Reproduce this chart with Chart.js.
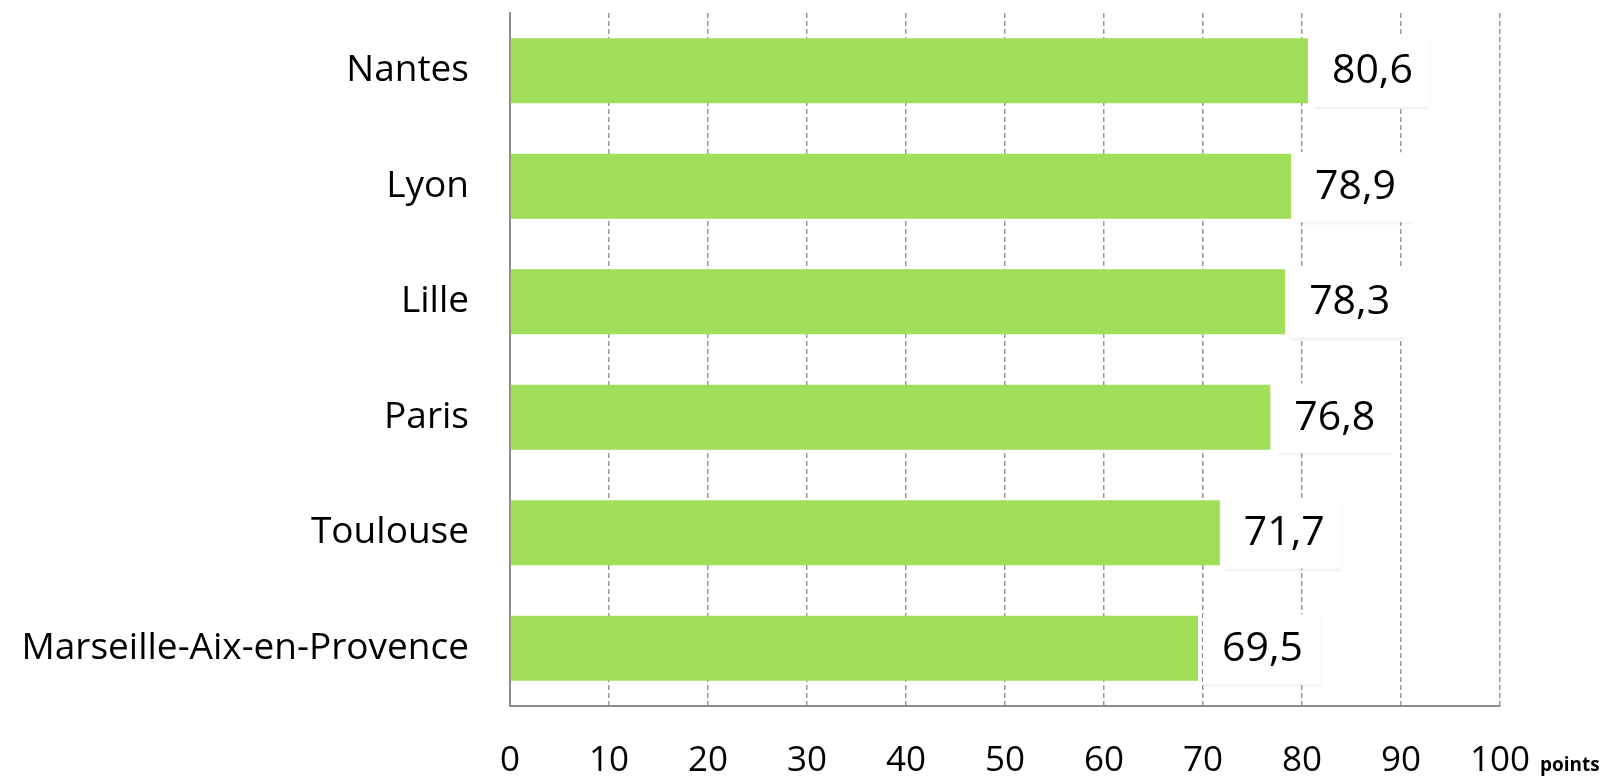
<!DOCTYPE html>
<html>
<head>
<meta charset="utf-8">
<script src="https://cdn.jsdelivr.net/npm/chart.js@4/dist/chart.umd.min.js"></script>
<style>
  html, body { margin: 0; padding: 0; background: #fff; }
  #wrap { width: 1604px; height: 777px; }
</style>
</head>
<body>
<div id="wrap"><canvas id="chart"></canvas></div>
<script>
// ================= DONNÉES =================
const villes = ["Nantes", "Lyon", "Lille", "Paris", "Toulouse", "Marseille-Aix-en-Provence"];
const scores = [80.6, 78.9, 78.3, 76.8, 71.7, 69.5];
const ticksX = [0, 10, 20, 30, 40, 50, 60, 70, 80, 90, 100];
const uniteX = "points";

const FONT = "'Open Sans', 'Noto Sans', sans-serif";

// étiquettes de valeur sur fond blanc
const valueLabels = {
  id: "valueLabels",
  afterDatasetsDraw(chart) {
    const ctx = chart.ctx;
    const meta = chart.getDatasetMeta(0);
    ctx.save();
    ctx.font = "41px " + FONT;
    ctx.textBaseline = "middle";
    meta.data.forEach((bar, i) => {
      const txt = scores[i].toFixed(1).replace(".", ",");
      const w = ctx.measureText(txt).width;
      const x0 = bar.x + 5;
      ctx.shadowColor = "rgba(0,0,0,0.08)";
      ctx.shadowBlur = 3;
      ctx.shadowOffsetY = 2;
      ctx.fillStyle = "#fff";
      ctx.fillRect(x0, bar.y - 34, w + 36, 70);
      ctx.shadowColor = "transparent";
      ctx.shadowBlur = 0;
      ctx.shadowOffsetY = 0;
      ctx.fillStyle = "#000";
      ctx.fillText(txt, bar.x + 24, bar.y + 1);
    });
    ctx.restore();
  },
  afterDraw(chart) {
    // unité à droite de l'axe
    const ctx = chart.ctx;
    const xs = chart.scales.x;
    ctx.save();
    ctx.font = "bold 19px " + FONT;
    ctx.fillStyle = "#000";
    ctx.textBaseline = "alphabetic";
    ctx.fillText(uniteX, xs.getPixelForValue(100) + 40, 771);
    ctx.restore();
  }
};

new Chart(document.getElementById("chart").getContext("2d"), {
  type: "bar",
  data: {
    labels: villes,
    datasets: [{
      data: scores,
      backgroundColor: "#a1de5a",
      borderWidth: 0,
      barPercentage: 0.563,
      categoryPercentage: 1
    }]
  },
  options: {
    indexAxis: "y",
    responsive: true,
    maintainAspectRatio: false,
    animation: false,
    devicePixelRatio: 1,
    layout: { padding: { left: 0, right: 104, top: 13, bottom: 0 } },
    plugins: {
      legend: { display: false },
      tooltip: { enabled: false }
    },
    scales: {
      x: {
        min: 0,
        max: 100,
        afterBuildTicks: s => { s.ticks = ticksX.map(v => ({ value: v })); },
        afterFit: s => { s.height = 71; s.paddingTop = 0; s.paddingBottom = 0; },
        grid: { color: "#9a9a9a", lineWidth: 1.5, drawTicks: false },
        border: { color: "#8c8c8c", width: 2, dash: [5, 3] },
        ticks: {
          color: "#000",
          padding: 34,
          font: { family: FONT, size: 35 }
        }
      },
      y: {
        afterFit: s => { s.width = 510; s.paddingTop = 0; s.paddingBottom = 0; },
        grid: { display: false, drawTicks: false },
        border: { color: "#8c8c8c", width: 2 },
        ticks: {
          color: "#000",
          padding: 41,
          font: { family: FONT, size: 37 }
        }
      }
    }
  },
  plugins: [valueLabels]
});
</script>
</body>
</html>
